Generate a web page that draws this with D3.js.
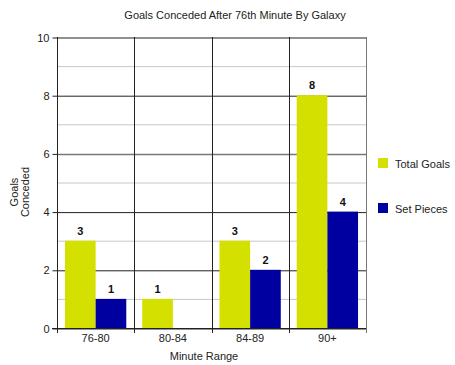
<!DOCTYPE html>
<html>
<head>
<meta charset="utf-8">
<script src="https://cdn.jsdelivr.net/npm/d3@7"></script>
<style>
  body { margin: 0; background: #fff; }
  text { font-family: "Liberation Sans", Arial, sans-serif; }
</style>
</head>
<body>
<div id="chart"></div>
<script>
const categories = ["76-80", "80-84", "84-89", "90+"];
const seriesNames = ["Total Goals", "Set Pieces"];
const totalGoals = [3, 1, 3, 8];
const setPieces = [1, 0, 2, 4];
const yTicks = [0, 2, 4, 6, 8, 10];
const colors = ["#d4e000", "#0000a0"];

const width = 455, height = 365;
const marginTop = 37, marginRight = 89, marginBottom = 37, marginLeft = 57;

const data = [];
categories.forEach((c, i) => {
  data.push({cat: c, series: seriesNames[0], value: totalGoals[i]});
  data.push({cat: c, series: seriesNames[1], value: setPieces[i]});
});

const x = d3.scaleBand(categories, [marginLeft, width - marginRight]);
const xz = d3.scaleBand(seriesNames, [0, x.bandwidth()]).paddingOuter(0.26);
const y = d3.scaleLinear([0, 10], [height - marginBottom, marginTop]);
const color = d3.scaleOrdinal(seriesNames, colors);

const svg = d3.select("#chart").append("svg")
    .attr("width", width)
    .attr("height", height)
    .attr("viewBox", [0, 0, width, height]);

// minor gridlines
svg.append("g")
  .selectAll("line")
  .data([1, 3, 5, 7, 9])
  .join("line")
    .attr("x1", marginLeft).attr("x2", width - marginRight)
    .attr("y1", d => y(d) + 0.5).attr("y2", d => y(d) + 0.5)
    .attr("stroke", "#c8c8c8");

// major gridlines + y axis
svg.append("g")
    .attr("transform", `translate(${marginLeft + 0.5},0.5)`)
    .call(d3.axisLeft(y).tickValues(yTicks).tickSize(5).tickPadding(3))
    .call(g => g.select(".domain").remove())
    .call(g => g.selectAll(".tick line").attr("stroke", "#222"))
    .call(g => g.selectAll(".tick").append("line")
        .attr("x2", width - marginLeft - marginRight)
        .attr("stroke", d => d === 6 ? "#777" : "#222")
        .attr("stroke-width", d => d === 6 ? 1.5 : 1))
    .call(g => g.selectAll(".tick text")
        .attr("font-size", 11).attr("fill", "#222")
        .attr("font-family", "Liberation Sans, Arial, sans-serif"));

// category separators
svg.append("g")
  .selectAll("line")
  .data(categories.concat([null]))
  .join("line")
    .attr("x1", (d, i) => Math.round(i < categories.length ? x(d) : x.range()[1]) + 0.5)
    .attr("x2", (d, i) => Math.round(i < categories.length ? x(d) : x.range()[1]) + 0.5)
    .attr("y1", marginTop)
    .attr("y2", height - marginBottom + 5)
    .attr("stroke", (d, i) => i === categories.length ? "#777" : "#222");

// bars
svg.append("g")
  .selectAll("rect")
  .data(data.filter(d => d.value > 0))
  .join("rect")
    .attr("x", d => x(d.cat) + xz(d.series))
    .attr("y", d => y(d.value))
    .attr("width", xz.bandwidth())
    .attr("height", d => y(0) - y(d.value))
    .attr("fill", d => color(d.series));

// value labels
svg.append("g")
  .selectAll("text")
  .data(data.filter(d => d.value > 0))
  .join("text")
    .attr("x", d => x(d.cat) + xz(d.series) + xz.bandwidth() / 2)
    .attr("y", d => y(d.value) - 6)
    .attr("text-anchor", "middle")
    .attr("font-size", 11)
    .attr("font-weight", "bold")
    .attr("fill", "#111")
    .text(d => d.value);

// x axis baseline
svg.append("line")
    .attr("x1", marginLeft - 5).attr("x2", width - marginRight)
    .attr("y1", y(0) + 0.5).attr("y2", y(0) + 0.5)
    .attr("stroke", "#222");

// x labels
svg.append("g")
  .selectAll("text")
  .data(categories)
  .join("text")
    .attr("x", d => x(d) + x.bandwidth() / 2)
    .attr("y", height - marginBottom + 14)
    .attr("text-anchor", "middle")
    .attr("font-size", 11)
    .attr("fill", "#222")
    .text(d => d);

// titles
svg.append("text")
    .attr("x", 235).attr("y", 19)
    .attr("text-anchor", "middle")
    .attr("font-size", 11)
    .attr("fill", "#222")
    .text("Goals Conceded After 76th Minute By Galaxy");

svg.append("text")
    .attr("x", 204)
    .attr("y", height - 5)
    .attr("text-anchor", "middle")
    .attr("font-size", 11)
    .attr("fill", "#222")
    .text("Minute Range");

svg.append("text")
    .attr("transform", `translate(18,192) rotate(-90)`)
    .attr("text-anchor", "middle")
    .attr("font-size", 11)
    .attr("fill", "#222")
  .selectAll("tspan")
  .data(["Goals", "Conceded"])
  .join("tspan")
    .attr("x", 0)
    .attr("dy", (d, i) => i === 0 ? 0 : 11)
    .text(d => d);

// legend
const legend = svg.append("g")
  .selectAll("g")
  .data(seriesNames)
  .join("g")
    .attr("transform", (d, i) => `translate(378,${158 + i * 45})`);

legend.append("rect")
    .attr("width", 10).attr("height", 10)
    .attr("fill", d => color(d));

legend.append("text")
    .attr("x", 17).attr("y", 9.5)
    .attr("font-size", 11)
    .attr("fill", "#222")
    .text(d => d);
</script>
</body>
</html>
